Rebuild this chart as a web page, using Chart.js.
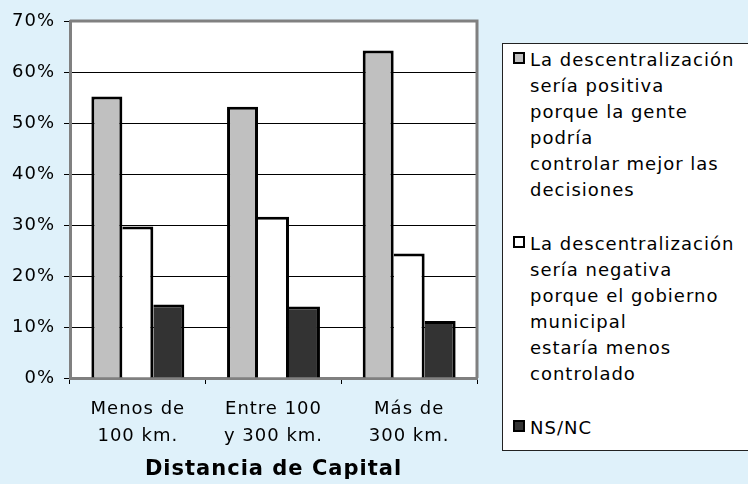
<!DOCTYPE html>
<html>
<head>
    <title>Distancia de Capital</title>
    <script src="https://cdn.jsdelivr.net/npm/chart.js"></script>
    <style>
        body {
            margin: 0;
            background: #dff1fa;
            font-family: "DejaVu Sans", Verdana, sans-serif;
        }
        #wrap {
            position: relative;
            width: 748px;
            height: 484px;
        }
        #legend {
            position: absolute;
            left: 502px;
            top: 43px;
            width: 260px;
            height: 408px;
            box-sizing: border-box;
            background: #fff;
            border: 1px solid #222;
            padding-top: 3px;
            font-size: 18px;
            line-height: 26px;
            letter-spacing: 1px;
            color: #000;
        }
        .item {
            position: relative;
            padding-left: 27px;
            margin-bottom: 28px;
        }
        .box {
            position: absolute;
            left: 10px;
            top: 5px;
            width: 8px;
            height: 8px;
            border: 2px solid #000;
        }
    </style>
</head>
<body>
    <div id="wrap">
        <canvas id="chart" width="748" height="484"></canvas>
        <div id="legend"></div>
    </div>

    <script>
        const categories = [['Menos de', '100 km.'], ['Entre 100', 'y 300 km.'], ['Más de', '300 km.']];
        const positiva = [55.2, 53.2, 64.2];
        const negativa = [29.7, 31.6, 24.4];
        const nsnc = [14.4, 14.0, 11.2];
        const seriesLines = [
            ['La descentralización', 'sería positiva', 'porque la gente', 'podría', 'controlar mejor las', 'decisiones'],
            ['La descentralización', 'sería negativa', 'porque el gobierno', 'municipal', 'estaría menos', 'controlado'],
            ['NS/NC']
        ];
        const seriesColors = ['#c0c0c0', '#ffffff', '#333333'];
        const xTitle = 'Distancia de Capital';
        const yMax = 70;
        const yStep = 10;

        // white plot area + grey frame on top/right like the original
        const plotFrame = {
            id: 'plotFrame',
            beforeDraw(chart) {
                const { ctx, chartArea: a } = chart;
                ctx.letterSpacing = '1px';
                ctx.save();
                ctx.fillStyle = '#fff';
                ctx.fillRect(a.left, a.top, a.right - a.left, a.bottom - a.top);
                ctx.restore();
            },
            afterDraw(chart) {
                const { ctx, chartArea: a } = chart;
                ctx.save();
                ctx.strokeStyle = '#808080';
                ctx.lineWidth = 3;
                ctx.beginPath();
                ctx.moveTo(a.left, a.top);
                ctx.lineTo(a.right, a.top);
                ctx.lineTo(a.right, a.bottom);
                ctx.stroke();
                ctx.restore();
            }
        };

        const seriesData = [positiva, negativa, nsnc];
        const datasets = seriesData.map((d, i) => ({
            label: seriesLines[i].join(' '),
            data: d,
            backgroundColor: seriesColors[i],
            borderColor: '#000',
            borderWidth: { top: 3, right: 3, left: i === 0 ? 3 : 0, bottom: 0 },
            categoryPercentage: 0.685,
            barPercentage: 1
        }));

        const ctx = document.getElementById('chart').getContext('2d');
        const myChart = new Chart(ctx, {
            type: 'bar',
            data: { labels: categories, datasets: datasets },
            options: {
                responsive: false,
                animation: false,
                layout: { padding: { top: 21, right: 271, left: 0, bottom: 0 } },
                plugins: {
                    legend: { display: false },
                    tooltip: { enabled: false }
                },
                scales: {
                    x: {
                        grid: { offset: true, drawOnChartArea: false, color: '#000', tickLength: 6 },
                        border: { color: '#808080', width: 3 },
                        ticks: {
                            color: '#000',
                            font: { family: 'DejaVu Sans', size: 18, lineHeight: 1.5 },
                            padding: 12,
                            maxRotation: 0
                        },
                        title: {
                            display: true,
                            text: xTitle,
                            color: '#000',
                            font: { family: 'DejaVu Sans', size: 21, weight: 'bold', lineHeight: 1.2 },
                            padding: { top: 0, bottom: 2 }
                        },
                        afterFit: s => { s.height = 106; }
                    },
                    y: {
                        min: 0,
                        max: yMax,
                        ticks: {
                            stepSize: yStep,
                            callback: v => v + '%',
                            color: '#000',
                            font: { family: 'DejaVu Sans', size: 18 },
                            padding: 9
                        },
                        grid: { color: '#000', lineWidth: 1, tickLength: 6 },
                        border: { color: '#808080', width: 3 },
                        afterFit: s => { s.width = 70; }
                    }
                }
            },
            plugins: [plotFrame]
        });

        // legend built from the dataset labels
        const legendEl = document.getElementById('legend');
        seriesLines.forEach((lines, i) => {
            const item = document.createElement('div');
            item.className = 'item';
            const box = document.createElement('span');
            box.className = 'box';
            box.style.background = seriesColors[i];
            item.appendChild(box);
            lines.forEach((t, j) => {
                if (j > 0) item.appendChild(document.createElement('br'));
                item.appendChild(document.createTextNode(t));
            });
            legendEl.appendChild(item);
        });
    </script>
</body>
</html>
